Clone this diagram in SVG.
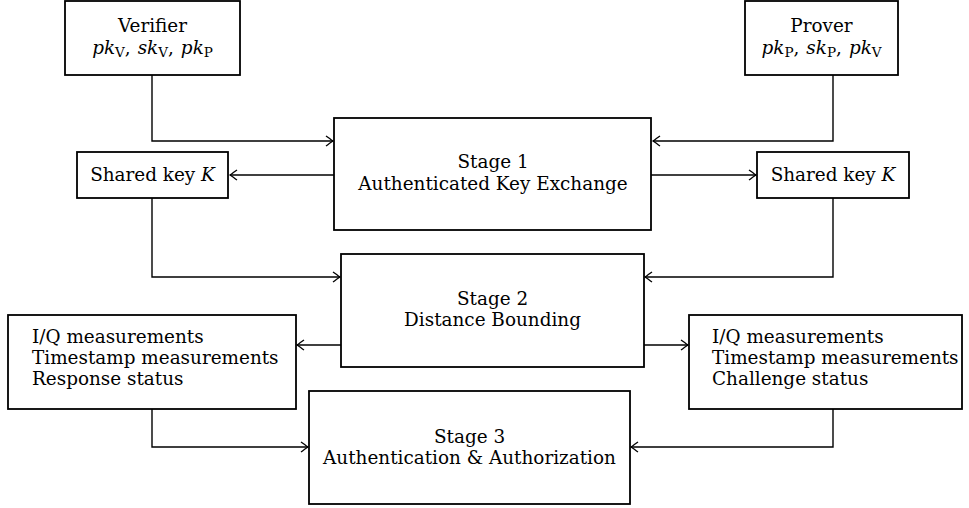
<svg xmlns="http://www.w3.org/2000/svg" width="969" height="508" viewBox="0 0 969 508">
<style>
.box{fill:#fff;stroke:#000;stroke-width:1.8}
.t{font-family:"DejaVu Serif","Liberation Serif",serif;font-size:18.4px;fill:#000}
.c{text-anchor:middle}
.m{font-style:italic}
.sub{font-size:13.5px;font-style:normal}
.ln{fill:none;stroke:#000;stroke-width:1.4}
</style>
<defs>
<marker id="arr" viewBox="-10 -7 12 14" refX="0" refY="0" markerWidth="12" markerHeight="14" markerUnits="userSpaceOnUse" orient="auto">
<path d="M-7,-5 C-4,-2.8 -1.5,-0.9 0,0 C-1.5,0.9 -4,2.8 -7,5" fill="none" stroke="#000" stroke-width="1.3"/>
</marker>
</defs>
<g id="connectors">
<path class="ln" d="M152,75 V141 H333" marker-end="url(#arr)"/>
<path class="ln" d="M833,75 V141 H653" marker-end="url(#arr)"/>
<path class="ln" d="M334,175 H230" marker-end="url(#arr)"/>
<path class="ln" d="M651,175 H756" marker-end="url(#arr)"/>
<path class="ln" d="M152,198 V277 H340" marker-end="url(#arr)"/>
<path class="ln" d="M833,198 V277 H645" marker-end="url(#arr)"/>
<path class="ln" d="M341,345 H297" marker-end="url(#arr)"/>
<path class="ln" d="M644,345 H688" marker-end="url(#arr)"/>
<path class="ln" d="M152,409 V447 H308" marker-end="url(#arr)"/>
<path class="ln" d="M833,409 V447 H631" marker-end="url(#arr)"/>
</g>
<g id="verifier">
<rect class="box" x="65" y="1" width="175" height="74"/>
<text class="t c" x="152.5" y="32">Verifier</text>
<text class="t c" x="152.5" y="54"><tspan class="m">pk</tspan><tspan class="sub" dy="3">V</tspan><tspan dy="-3">,</tspan><tspan class="m" dx="7">sk</tspan><tspan class="sub" dy="3">V</tspan><tspan dy="-3">,</tspan><tspan class="m" dx="7">pk</tspan><tspan class="sub" dy="3">P</tspan></text>
</g>
<g id="prover">
<rect class="box" x="745" y="1" width="153" height="74"/>
<text class="t c" x="821.5" y="32">Prover</text>
<text class="t c" x="821.5" y="54"><tspan class="m">pk</tspan><tspan class="sub" dy="3">P</tspan><tspan dy="-3">,</tspan><tspan class="m" dx="7">sk</tspan><tspan class="sub" dy="3">P</tspan><tspan dy="-3">,</tspan><tspan class="m" dx="7">pk</tspan><tspan class="sub" dy="3">V</tspan></text>
</g>
<g id="stage1">
<rect class="box" x="334" y="118" width="317" height="112"/>
<text class="t c" x="493" y="168">Stage 1</text>
<text class="t c" x="493" y="190">Authenticated Key Exchange</text>
</g>
<g id="sharedkey-v">
<rect class="box" x="77" y="152" width="151" height="46"/>
<text class="t c" x="152.5" y="181">Shared key <tspan class="m">K</tspan></text>
</g>
<g id="sharedkey-p">
<rect class="box" x="757" y="152" width="152" height="46"/>
<text class="t c" x="833" y="181">Shared key <tspan class="m">K</tspan></text>
</g>
<g id="stage2">
<rect class="box" x="341" y="254" width="303" height="113"/>
<text class="t c" x="492.5" y="305">Stage 2</text>
<text class="t c" x="492.5" y="326">Distance Bounding</text>
</g>
<g id="meas-v">
<rect class="box" x="8" y="315" width="288" height="94"/>
<text class="t" x="32" y="343">I/Q measurements</text>
<text class="t" x="32" y="364">Timestamp measurements</text>
<text class="t" x="32" y="385">Response status</text>
</g>
<g id="meas-p">
<rect class="box" x="689" y="315" width="273" height="94"/>
<text class="t" x="712" y="343">I/Q measurements</text>
<text class="t" x="712" y="364">Timestamp measurements</text>
<text class="t" x="712" y="385">Challenge status</text>
</g>
<g id="stage3">
<rect class="box" x="309" y="391" width="321" height="113"/>
<text class="t c" x="469.5" y="443">Stage 3</text>
<text class="t c" x="469.5" y="464">Authentication &amp; Authorization</text>
</g>
</svg>
